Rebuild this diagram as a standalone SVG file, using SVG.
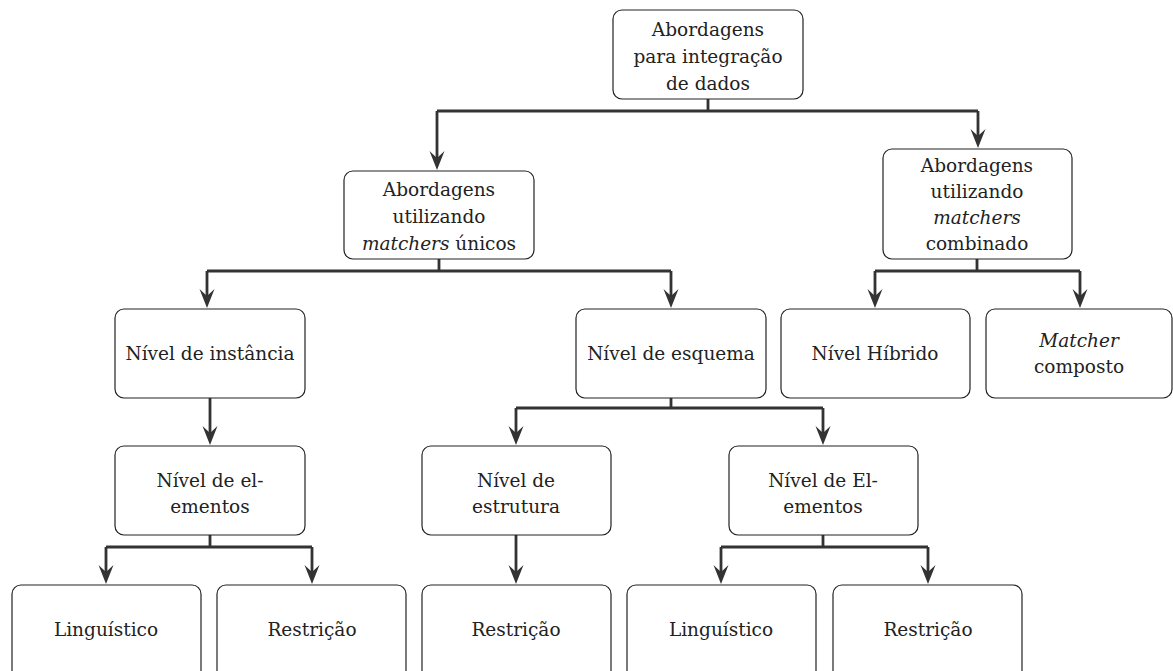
<svg xmlns="http://www.w3.org/2000/svg" width="1173" height="671" viewBox="0 0 1173 671">
<style>
.box{fill:#fff;stroke:#222;stroke-width:1.2}
.t{font-size:18.5px;fill:#222;text-anchor:middle}
.i{font-style:italic}
.c{fill:none;stroke:#333;stroke-width:2.8}
</style>
<defs>
<path id="ah" d="M-7.5,-19 L0,0 L7.5,-19 L0,-12 Z" fill="#333"/>
</defs>
<g id="connectors">
<path class="c" d="M708,99 V111 M437,111 H978 M437,111 V160 M978,111 V138"/>
<path class="c" d="M439,259 V271 M207,271 H671 M207,271 V299 M671,271 V299"/>
<path class="c" d="M977,259 V271 M875,271 H1080 M875,271 V299 M1080,271 V299"/>
<path class="c" d="M210,398 V436"/>
<path class="c" d="M671,398 V408 M516,408 H823 M516,408 V436 M823,408 V436"/>
<path class="c" d="M210,535 V547 M106,547 H312 M106,547 V575 M312,547 V575"/>
<path class="c" d="M516,535 V575"/>
<path class="c" d="M823,535 V547 M721,547 H928 M721,547 V575 M928,547 V575"/>
<use href="#ah" x="437" y="170"/>
<use href="#ah" x="978" y="148"/>
<use href="#ah" x="207" y="308"/>
<use href="#ah" x="671" y="308"/>
<use href="#ah" x="875" y="308"/>
<use href="#ah" x="1080" y="308"/>
<use href="#ah" x="210" y="445"/>
<use href="#ah" x="516" y="445"/>
<use href="#ah" x="823" y="445"/>
<use href="#ah" x="106" y="584"/>
<use href="#ah" x="312" y="584"/>
<use href="#ah" x="516" y="584"/>
<use href="#ah" x="721" y="584"/>
<use href="#ah" x="928" y="584"/>
</g>
<g font-family="DejaVu Serif, serif">
<g id="root"><rect class="box" x="613" y="10" width="190" height="89" rx="9"/>
<text class="t" x="708" y="36">Abordagens</text><text class="t" x="708" y="63">para integração</text><text class="t" x="708" y="90">de dados</text></g>
<g id="unicos"><rect class="box" x="344" y="171" width="190" height="88" rx="9"/>
<text class="t" x="439" y="196">Abordagens</text><text class="t" x="439" y="223">utilizando</text><text class="t" x="439" y="250"><tspan class="i">matchers</tspan> únicos</text></g>
<g id="combinado"><rect class="box" x="883" y="149" width="189" height="110" rx="9"/>
<text class="t" x="977" y="172">Abordagens</text><text class="t" x="977" y="198">utilizando</text><text class="t i" x="977" y="224">matchers</text><text class="t" x="977" y="250">combinado</text></g>
<g id="instancia"><rect class="box" x="115" y="309" width="190" height="89" rx="9"/>
<text class="t" x="210" y="360">Nível de instância</text></g>
<g id="esquema"><rect class="box" x="576" y="309" width="190" height="89" rx="9"/>
<text class="t" x="671" y="360">Nível de esquema</text></g>
<g id="hibrido"><rect class="box" x="781" y="309" width="189" height="89" rx="9"/>
<text class="t" x="875" y="360">Nível Híbrido</text></g>
<g id="composto"><rect class="box" x="986" y="309" width="186" height="89" rx="9"/>
<text class="t i" x="1079" y="347">Matcher</text><text class="t" x="1079" y="373">composto</text></g>
<g id="elementos1"><rect class="box" x="115" y="446" width="190" height="89" rx="9"/>
<text class="t" x="210" y="487">Nível de el-</text><text class="t" x="210" y="513">ementos</text></g>
<g id="estrutura"><rect class="box" x="422" y="446" width="189" height="89" rx="9"/>
<text class="t" x="516" y="487">Nível de</text><text class="t" x="516" y="513">estrutura</text></g>
<g id="elementos2"><rect class="box" x="729" y="446" width="189" height="89" rx="9"/>
<text class="t" x="823" y="487">Nível de El-</text><text class="t" x="823" y="513">ementos</text></g>
<g id="ling1"><rect class="box" x="12" y="585" width="189" height="95" rx="9"/>
<text class="t" x="106" y="636">Linguístico</text></g>
<g id="rest1"><rect class="box" x="217" y="585" width="189" height="95" rx="9"/>
<text class="t" x="312" y="636">Restrição</text></g>
<g id="rest2"><rect class="box" x="422" y="585" width="189" height="95" rx="9"/>
<text class="t" x="516" y="636">Restrição</text></g>
<g id="ling2"><rect class="box" x="627" y="585" width="189" height="95" rx="9"/>
<text class="t" x="721" y="636">Linguístico</text></g>
<g id="rest3"><rect class="box" x="833" y="585" width="189" height="95" rx="9"/>
<text class="t" x="928" y="636">Restrição</text></g>
</g>
</svg>
